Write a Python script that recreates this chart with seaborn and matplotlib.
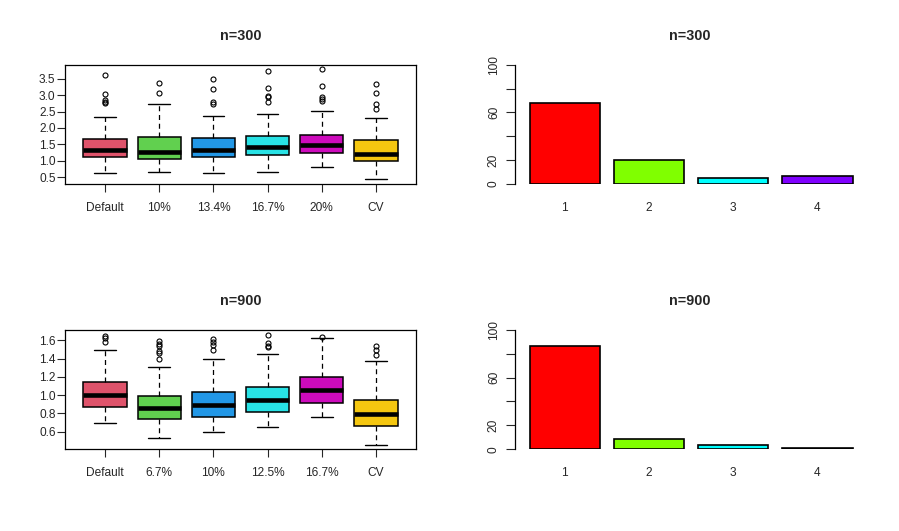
import numpy as np
import pandas as pd
import seaborn as sns
import matplotlib
matplotlib.use("Agg")
import matplotlib.pyplot as plt

# box plot summaries (whisker low, Q1, median, Q3, whisker high, outliers)
labels_300 = ["Default", "10%", "13.4%", "16.7%", "20%", "CV"]
whislo_300 = [0.62, 0.65, 0.62, 0.65, 0.80, 0.44]
q1_300 = [1.11, 1.05, 1.11, 1.17, 1.23, 1.00]
med_300 = [1.33, 1.27, 1.33, 1.41, 1.48, 1.21]
q3_300 = [1.66, 1.71, 1.68, 1.74, 1.80, 1.63]
whishi_300 = [2.32, 2.73, 2.35, 2.43, 2.51, 2.29]
fliers_300 = [[3.63, 3.05, 2.85, 2.80, 2.75],
              [3.36, 3.08],
              [3.48, 3.18, 2.80, 2.73],
              [3.75, 3.21, 2.97, 2.93, 2.78],
              [3.79, 3.27, 2.95, 2.88, 2.82],
              [3.34, 3.08, 2.74, 2.59]]

labels_900 = ["Default", "6.7%", "10%", "12.5%", "16.7%", "CV"]
whislo_900 = [0.70, 0.527, 0.593, 0.647, 0.757, 0.454]
q1_900 = [0.866, 0.735, 0.757, 0.812, 0.91, 0.662]
med_900 = [0.998, 0.859, 0.892, 0.947, 1.056, 0.79]
q3_900 = [1.147, 0.987, 1.04, 1.085, 1.195, 0.947]
whishi_900 = [1.50, 1.304, 1.40, 1.447, 1.63, 1.37]
fliers_900 = [[1.65, 1.63, 1.58],
              [1.59, 1.56, 1.54, 1.48, 1.46, 1.40],
              [1.62, 1.585, 1.55, 1.50],
              [1.66, 1.57, 1.54, 1.53],
              [1.633],
              [1.54, 1.49, 1.44]]

box_colors = ["#DF536B", "#61D04F", "#2297E6", "#28E2E5", "#CD0BBC", "#F5C710"]

# bar heights
bar_cats = ["1", "2", "3", "4"]
bars_300 = [68, 20, 5, 7]
bars_900 = [86, 9, 4, 1]
bar_colors = ["#FF0000", "#80FF00", "#00FFFF", "#8000FF"]

sns.set_style("white")
plt.rcParams["font.family"] = ["Liberation Sans", "DejaVu Sans"]
plt.rcParams["font.size"] = 8.6

W, H = 899, 531
fig = plt.figure(figsize=(W / 100, H / 100), dpi=100)


def px_axes(left, top, right, bottom):
    return fig.add_axes([left / W, (H - bottom) / H, (right - left) / W, (bottom - top) / H])


def box_panel(ax, labels, lo, q1, med, q3, hi, fliers, yticks, ylim, title):
    stats = []
    for i in range(len(labels)):
        stats.append(dict(label=labels[i], whislo=lo[i], q1=q1[i], med=med[i],
                          q3=q3[i], whishi=hi[i], fliers=fliers[i]))
    parts = ax.bxp(stats, positions=range(1, len(labels) + 1), widths=0.8,
                   capwidths=0.4, patch_artist=True,
                   boxprops=dict(edgecolor="black", linewidth=1.1),
                   medianprops=dict(color="black", linewidth=3.3, solid_capstyle="butt"),
                   whiskerprops=dict(color="black", linewidth=0.9, linestyle=(0, (4, 3))),
                   capprops=dict(color="black", linewidth=1.0),
                   flierprops=dict(marker="o", markerfacecolor="none", markeredgecolor="black",
                                   markersize=3.6, markeredgewidth=0.8))
    for patch, c in zip(parts["boxes"], box_colors):
        patch.set_facecolor(c)
    ax.set_xlim(0.26, 6.74)
    ax.set_ylim(*ylim)
    ax.set_yticks(yticks)
    ax.set_yticklabels(["%.1f" % v for v in yticks])
    ax.set_xticks(range(1, len(labels) + 1))
    ax.set_xticklabels(labels)
    ax.tick_params(axis="x", length=5.8, width=0.8, pad=7, direction="out", bottom=True)
    ax.tick_params(axis="y", length=5.8, width=0.8, pad=1, direction="out", left=True)
    for s in ax.spines.values():
        s.set_visible(True)
        s.set_color("black")
        s.set_linewidth(0.9)
    ax.set_title(title, fontsize=10.4, fontweight="bold", pad=18)


def bar_panel(ax, vals, title):
    df = pd.DataFrame({"cat": bar_cats, "val": vals})
    sns.barplot(data=df, x="cat", y="val", hue="cat", palette=bar_colors, legend=False,
                width=1 / 1.2, saturation=1, edgecolor="black", linewidth=1.2, ax=ax)
    ax.set_xlim(-0.597, 3.57)
    ax.set_ylim(0, 100)
    ax.set_yticks([0, 20, 40, 60, 80, 100])
    ax.set_yticklabels(["0", "20", "", "60", "", "100"])
    ax.tick_params(axis="y", length=6.5, width=0.8, pad=4, direction="out", left=True,
                   labelrotation=90)
    for lab in ax.get_yticklabels():
        lab.set_verticalalignment("center")
    ax.tick_params(axis="x", length=0, pad=13)
    for k, s in ax.spines.items():
        s.set_visible(k == "left")
    ax.spines["left"].set_color("black")
    ax.spines["left"].set_linewidth(0.9)
    ax.set_xlabel("")
    ax.set_ylabel("")
    ax.set_title(title, fontsize=10.4, fontweight="bold", pad=18)


ax1 = px_axes(65, 64.7, 416, 184)
box_panel(ax1, labels_300, whislo_300, q1_300, med_300, q3_300, whishi_300, fliers_300,
          np.arange(0.5, 3.51, 0.5), (0.29, 3.93), "n=300")

ax3 = px_axes(65, 329.7, 416, 449.3)
box_panel(ax3, labels_900, whislo_900, q1_900, med_900, q3_900, whishi_900, fliers_900,
          np.arange(0.6, 1.61, 0.2), (0.407, 1.717), "n=900")

ax2 = px_axes(514.5, 64.7, 865.5, 184)
bar_panel(ax2, bars_300, "n=300")

ax4 = px_axes(514.5, 329.7, 865.5, 449.3)
bar_panel(ax4, bars_900, "n=900")

fig.savefig("out.png", dpi=100, facecolor="white")
